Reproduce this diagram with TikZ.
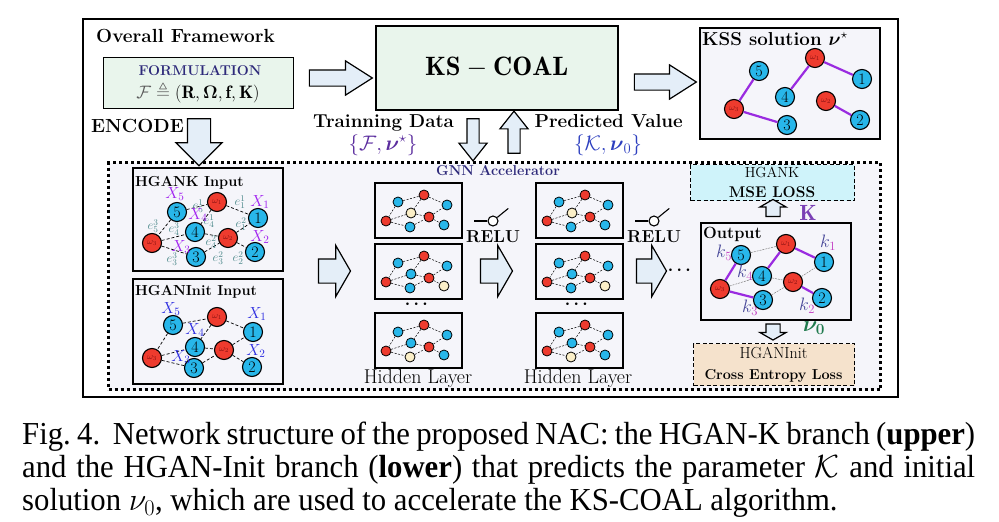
\RequirePackage{fix-cm}
\documentclass[tikz,border=0pt]{standalone}
\usepackage{amsmath, amssymb}
\usepackage{fontspec}
\newfontfamily\capfont[FakeStretch=0.96]{Liberation Serif}
\usepackage{tikz}
\usetikzlibrary{arrows.meta, positioning, shapes.arrows, calc}
\definecolor{boxGreen}{HTML}{E9F5EC}
\definecolor{arrowBlue}{HTML}{E4EEF8}
\definecolor{panelGray}{HTML}{F5F5FA}
\definecolor{nodeRed}{HTML}{EE3B2E}
\definecolor{nodeBlue}{HTML}{28B7EA}
\definecolor{nodeYellow}{HTML}{FBEFC8}
\definecolor{edgePurple}{HTML}{9A2BE0}
\definecolor{navyText}{HTML}{2E2A7A}
\definecolor{setPurple}{HTML}{5B2D9E}
\definecolor{setBlue}{HTML}{2D3FBF}
\definecolor{xViolet}{HTML}{A020F0}
\definecolor{xBlue}{HTML}{2B2BE0}
\definecolor{eTeal}{HTML}{4E8A8C}
\definecolor{kSlate}{HTML}{4A4A9A}
\definecolor{kMagenta}{HTML}{C23BC2}
\definecolor{kBold}{HTML}{7A3FB5}
\definecolor{lossCyan}{HTML}{CFF3FA}
\definecolor{lossTan}{HTML}{F5E2CC}
\definecolor{nuGreen}{HTML}{1F7A4D}
\definecolor{omegaText}{HTML}{8A1212}
\newcommand{\sz}[1]{\fontsize{#1}{#1}\selectfont}

\begin{document}
\begin{tikzpicture}[x=1pt, y=-1pt,
  block/.style={draw, line width=1.3pt, fill=boxGreen, inner sep=0pt, anchor=north west},
  panel/.style={draw, line width=1.8pt, fill=panelGray, anchor=north west, inner sep=0pt},
  fatarrow/.style={single arrow, draw, line width=1.2pt, fill=arrowBlue, inner xsep=0pt, single arrow head indent=0pt},
  omg/.style={circle, draw, line width=1.1pt, fill=nodeRed, minimum size=19pt, inner sep=0pt, text=omegaText, font=\sz{9}},
  num/.style={circle, draw, line width=1.1pt, fill=nodeBlue, minimum size=19pt, inner sep=0pt, font=\sz{16}},
  mini/.style={circle, draw, line width=0.8pt, minimum size=10pt, inner sep=0pt},
  dedge/.style={line width=0.7pt, dash pattern=on 3pt off 2pt},
  pedge/.style={edgePurple, line width=2.2pt},
  gedge/.style={gray, line width=0.5pt, dash pattern=on 2pt off 1pt},
  lossbox/.style={draw, line width=1.1pt, dash pattern=on 4pt off 2.5pt, inner sep=0pt, anchor=north west},
  lbl/.style={inner sep=0pt, anchor=base west},
  mid/.style={inner sep=0pt},
]
\useasboundingbox (0,0) rectangle (999,522);

% outer frame and accelerator panel
\draw[line width=2.8pt] (83,19) rectangle (898,397);
\node[draw, fill=panelGray, line width=3pt, dash pattern=on 3pt off 3pt, anchor=north west,
  minimum width=772pt, minimum height=227pt, inner sep=0pt] (gnn) at (107,161) {};
\node[mid, anchor=base, font=\sz{14.3}\bfseries, text=navyText] (gnntitle) at (498,175) {GNN Accelerator};

% top row
\node[lbl, font=\sz{19}\bfseries] (title) at (96,42) {Overall Framework};
\node[block, minimum width=190pt, minimum height=51pt] (form) at (103,57) {};
\node[mid, anchor=base, font=\sz{14.2}\bfseries, text=navyText] (formname) at (200,75) {FORMULATION};
\node[mid, anchor=base, font=\sz{18}] (formdef) at (198,98)
  {$\color{gray!70!black}\mathcal{F}\mathrel{\triangleq}\color{black}(\mathbf{R},\boldsymbol{\Omega},\mathbf{f},\mathbf{K})$};
\node[block, line width=1.5pt, minimum width=242pt, minimum height=84pt] (kscoal) at (375,25) {\sz{26.6}$\mathbf{KS-COAL}$};
\node[panel, line width=2pt, minimum width=180pt, minimum height=111pt] (kss) at (699,27) {};
\node[lbl, font=\sz{18.7}\bfseries] (ksstitle) at (702,45) {KSS solution $\boldsymbol{\nu}^{\star}$};

\node[fatarrow, minimum height=63pt, inner ysep=7.5pt, single arrow head extend=9pt, single arrow tip angle=65] (a1) at (334.5,78) {};
\node[fatarrow, minimum height=62pt, inner ysep=7.5pt, single arrow head extend=9pt, single arrow tip angle=65] (a2) at (659,82) {};
\node[fatarrow, rotate=-90, minimum height=47pt, inner ysep=11pt, single arrow head extend=11.5pt, single arrow tip angle=90] (encarrow) at (199,136.5) {};
\node[fatarrow, rotate=-90, minimum height=42pt, inner ysep=5.5pt, single arrow head extend=8pt, single arrow tip angle=77] (trainarrow) at (473,136) {};
\node[fatarrow, rotate=90, minimum height=42pt, inner ysep=5.5pt, single arrow head extend=8pt, single arrow tip angle=77] (predarrow) at (514,136) {};

\node[lbl, font=\sz{19}\bfseries] (encode) at (91,132) {ENCODE};
\node[lbl, font=\sz{18.7}\bfseries] (train) at (313,127) {Trainning Data};
\node[lbl, font=\sz{18.8}\bfseries, anchor=base east] (pred) at (683,127) {Predicted Value};
\node[mid, font=\sz{21}, text=setPurple] (trainset) at (383,145) {$\{\mathcal{F},\boldsymbol{\nu}^{\star}\}$};
\node[mid, font=\sz{21}, text=setBlue] (predset) at (608,145) {$\{\mathcal{K},\boldsymbol{\nu}_0\}$};

% KSS solution graph
\foreach \i/\x/\y in {1/815/58, 2/826/101, 3/734/109}
  \node[omg] (sw\i) at (\x,\y) {$\omega_\i$};
\foreach \i/\x/\y in {1/862/79, 2/860/120, 3/787/125, 4/785/97, 5/759/71}
  \node[num] (s\i) at (\x,\y) {\i};
\foreach \p/\q in {w1/1, w1/4, w3/5, w3/3, w2/2}
  \draw[pedge] (s\p) -- (s\q);

% HGANK input
\node[panel, line width=2pt, minimum width=150pt, minimum height=103pt] (kin) at (132,167) {};
\node[lbl, font=\sz{14.5}\bfseries] (kintitle) at (135,186) {HGANK Input};
\foreach \i/\x/\y in {1/217/202, 2/228/238, 3/152/243}
  \node[omg] (aw\i) at (\x,\y) {$\omega_\i$};
\foreach \i/\x/\y in {1/258/218, 2/255/252, 3/196/257, 4/195/232, 5/177/212}
  \node[num] (a\i) at (\x,\y) {\i};
\foreach \p/\q in {5/w1, w1/1, w1/4, 5/w3, w3/4, w3/3, 4/w2, w2/1, w2/2, 3/w2}
  \draw[dedge] (a\p) -- (a\q);
\foreach \n/\t/\x/\y in {51/e_5^1/198/206, 11/e_1^1/240/202, 41/e_4^1/209/221, 12/e_1^2/241/224,
    53/e_5^3/153/226, 43/e_4^3/174/229, 42/e_4^2/211/242, 33/e_3^3/172/259, 32/e_3^2/218/258, 22/e_2^2/238/258}
  \node[mid, font=\sz{12.5}, text=eTeal] (ae\n) at (\x,\y) {$\t$};
\foreach \i/\x/\y in {5/175/194, 4/198/215, 3/181/247, 1/260/202, 2/260/237}
  \node[mid, font=\sz{16}, text=xViolet] (ax\i) at (\x,\y) {$X_\i$};

% HGANInit input
\node[panel, line width=2pt, minimum width=150pt, minimum height=105pt] (iin) at (132,278) {};
\node[lbl, font=\sz{14.5}\bfseries] (iintitle) at (135,295) {HGANInit Input};
\foreach \i/\x/\y in {1/217/317, 2/224/350, 3/152/358}
  \node[omg] (bw\i) at (\x,\y) {$\omega_\i$};
\foreach \i/\x/\y in {1/253/332, 2/252/367, 3/194/368, 4/195/347, 5/173/325}
  \node[num] (b\i) at (\x,\y) {\i};
\foreach \p/\q in {5/w1, w1/1, w1/4, 5/w3, w3/4, w3/3, 4/w2, w2/1, w2/2, 3/w2}
  \draw[dedge] (b\p) -- (b\q);
\foreach \i/\x/\y in {5/171/309, 4/195/330, 3/181/357, 1/257/314, 2/256/351}
  \node[mid, font=\sz{16}, text=xBlue] (bx\i) at (\x,\y) {$X_\i$};

% hidden layers
\foreach \cc/\hx in {1/374, 2/535}{
  \foreach \rr/\hy/\cd/\cg/\ch in {1/182/nodeYellow/nodeBlue/nodeBlue, 2/243/nodeBlue/nodeBlue/nodeYellow, 3/312/nodeBlue/nodeYellow/nodeBlue}{
    \node[panel, line width=1.6pt, minimum width=87pt, minimum height=55pt] (h\cc\rr) at (\hx,\hy) {};
    \foreach \n/\dx/\dy/\fc in {a/24/20/nodeBlue, b/50/13/nodeRed, c/73/23/nodeBlue, d/37/31/\cd,
        e/55/35/nodeRed, f/12/39/nodeRed, g/36/45/\cg, h/70/43/\ch}
      \node[mini, fill=\fc] (h\cc\rr\n) at ($(h\cc\rr.north west)+(\dx,\dy)$) {};
    \foreach \p/\q in {a/b, b/c, b/d, a/f, f/d, f/g, d/e, e/c, e/h, g/e}
      \draw[line width=0.5pt, dash pattern=on 2pt off 1.5pt] (h\cc\rr\p) -- (h\cc\rr\q);
  }
}
\node[mid, font=\sz{17}] (dots1) at (418,304) {$\boldsymbol{\cdots}$};
\node[mid, font=\sz{17}] (dots2) at (578,304) {$\boldsymbol{\cdots}$};
\node[mid, anchor=base, font=\sz{20}] (hid1) at (418,383) {Hidden Layer};
\node[mid, anchor=base, font=\sz{20}] (hid2) at (578,383) {Hidden Layer};

\node[fatarrow, minimum height=32pt, inner ysep=11.5pt, single arrow head extend=13.5pt, single arrow tip angle=120] (h1arrow) at (331,271) {};
\node[fatarrow, minimum height=32pt, inner ysep=11.5pt, single arrow head extend=13.5pt, single arrow tip angle=120] (h2arrow) at (493,271) {};
\node[fatarrow, minimum height=30pt, inner ysep=11.5pt, single arrow head extend=13.5pt, single arrow tip angle=120] (h3arrow) at (648,271) {};
\node[mid, font=\sz{17}] (dots3) at (681,270) {$\boldsymbol{\cdots}$};

% relu switches
\foreach \k/\x in {1/493, 2/654}{
  \node[mid, anchor=base, font=\sz{17.3}\bfseries] (relu\k) at (\x,242) {RELU};
  \node[circle, draw, line width=1.1pt, fill=white, minimum size=10pt, inner sep=0pt] (sw\k) at (\x,221) {};
  \draw[line width=1.1pt] (sw\k.west) -- ++(-13,0);
  \draw[line width=1.1pt] (sw\k.40) -- ++(11,-9);
}

% output
\node[panel, line width=2pt, minimum width=150pt, minimum height=97pt] (out) at (700,222) {};
\node[lbl, font=\sz{16.3}\bfseries] (outtitle) at (703,238) {Output};
\foreach \i/\x/\y in {1/786/244, 2/793/282, 3/720/289}
  \node[omg] (ow\i) at (\x,\y) {$\omega_\i$};
\foreach \i/\x/\y in {1/824/262, 2/822/298, 3/763/300, 4/762/276, 5/741/255}
  \node[num] (o\i) at (\x,\y) {\i};
\foreach \p/\q in {5/w1, 4/w2, w3/4, w2/1, 3/w2}
  \draw[gedge] (o\p) -- (o\q);
\foreach \p/\q in {w1/1, w1/4, w3/5, w3/3, w2/2}
  \draw[pedge] (o\p) -- (o\q);
\foreach \i/\x/\y in {1/828/243, 5/724/253, 4/745/273, 3/750/308, 2/807/306}
  \node[mid, font=\sz{18}, text=kSlate] (ok\i) at (\x,\y) {$k_{\color{kMagenta}\i}$};

% losses
\node[lossbox, fill=lossCyan, minimum width=164pt, minimum height=36pt] (mse) at (690,164) {};
\node[mid, anchor=base, font=\sz{14.6}] (msehead) at (772,177) {HGANK};
\node[mid, anchor=base, font=\sz{15.5}\bfseries] (msename) at (772,197) {MSE LOSS};
\node[lossbox, fill=lossTan, minimum width=161pt, minimum height=42pt] (ce) at (693,343) {};
\node[mid, anchor=base, font=\sz{16}] (cehead) at (773.5,358) {HGANInit};
\node[mid, anchor=base, font=\sz{14.4}\bfseries] (cename) at (773.5,379) {Cross Entropy Loss};
\node[fatarrow, rotate=90, minimum height=17pt, inner ysep=6.5pt, single arrow head extend=6pt, single arrow tip angle=120] (karrow) at (773,210) {};
\node[fatarrow, rotate=-90, minimum height=16pt, inner ysep=6.5pt, single arrow head extend=6pt, single arrow tip angle=120] (nuarrow) at (773,330) {};
\node[mid, font=\sz{22}, text=kBold] (klbl) at (808,213) {$\mathbf{K}$};
\node[mid, font=\sz{22}, text=nuGreen] (nulbl) at (814,328) {$\boldsymbol{\nu_0}$};

% caption
\node[anchor=north west, inner sep=0pt, align=left,
  font=\capfont\fontsize{32}{33}\selectfont] (caption) at (22,422)
  {\makebox[953pt][s]{Fig.~4.\ \ Network structure of the proposed NAC: the HGAN-K branch (\textbf{upper})}\\
   \makebox[953pt][s]{and the HGAN-Init branch (\textbf{lower}) that predicts the parameter $\mathcal{K}$ and initial}\\
   solution $\nu_0$, which are used to accelerate the KS-COAL algorithm.};
\end{tikzpicture}
\end{document}
